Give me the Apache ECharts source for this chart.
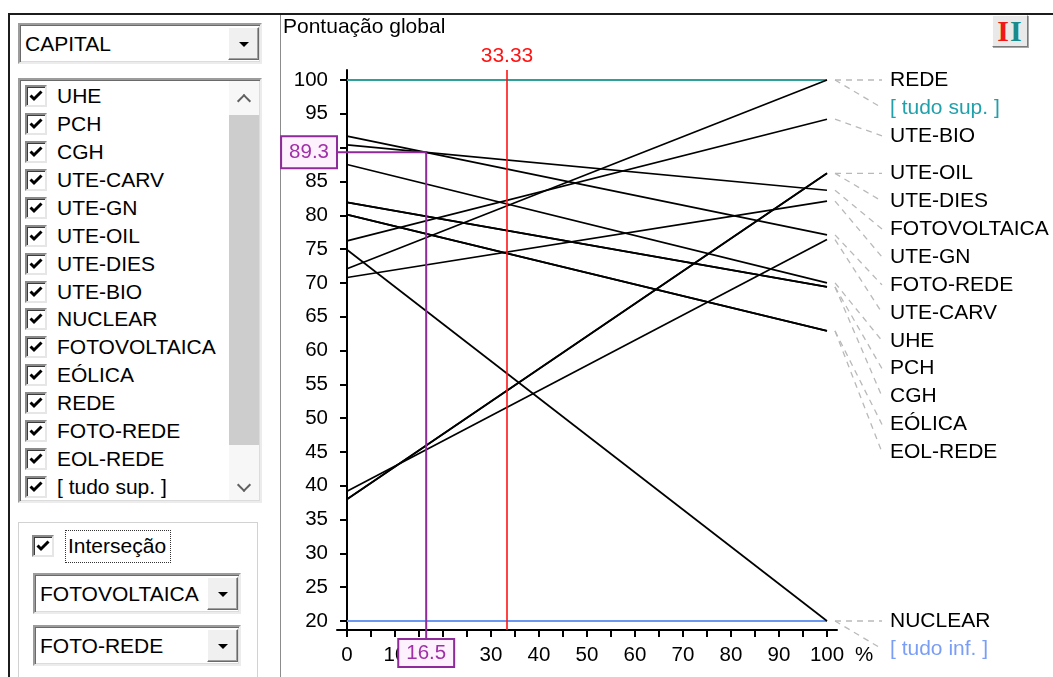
<!DOCTYPE html>
<html>
<head>
<meta charset="utf-8">
<title>Pontuação global</title>
<script src="https://cdn.jsdelivr.net/npm/echarts@6/dist/echarts.min.js"></script>
<style>
  html, body { margin: 0; padding: 0; background: #fff; }
  body { width: 1053px; height: 677px; position: relative; overflow: hidden;
         font-family: "Liberation Sans", Arial, sans-serif; font-size: 21px; color: #000; }
  #chart { position: absolute; left: 0; top: 0; width: 1053px; height: 677px; z-index: 2; }
  #panel { position: absolute; left: 0; top: 0; width: 1053px; height: 677px; z-index: 1; }
  .abs { position: absolute; box-sizing: border-box; }
  .sunken { background: #fff; border: 2px solid; border-color: #9c9c9c #ececec #ececec #9c9c9c;
            box-shadow: inset 1px 1px 0 #6a6a6a, inset -1px -1px 0 #dcdcdc; }
  .btn { background: #f0f0f0; border: 1px solid; border-color: #fff #6a6a6a #6a6a6a #fff;
         box-shadow: inset -1px -1px 0 #a0a0a0; }
  .arrow { position: absolute; left: 50%; top: 50%; margin-left: -5px; margin-top: -2px; width: 0; height: 0;
           border-left: 5px solid transparent; border-right: 5px solid transparent; border-top: 5px solid #000; }
  .chk { position: absolute; width: 22px; height: 22px; box-sizing: border-box; background: #fff;
         border: 2px solid; border-color: #8a8a8a #e6e6e6 #e6e6e6 #8a8a8a;
         box-shadow: inset 1px 1px 0 #3c3c3c; }
  .chk svg { position: absolute; left: 1px; top: 1px; }
  .txt { position: absolute; white-space: nowrap; line-height: 24px; height: 24px; }
  .chev { position: absolute; width: 8px; height: 8px; border-left: 2px solid #606060; border-top: 2px solid #606060; }
</style>
</head>
<body>
<div id="panel"></div>
<div id="chart"></div>
<script>
// ---- data -------------------------------------------------------------
// alternatives and their global score at criterion weight 0 % and 100 %
const alternatives = ['UHE', 'PCH', 'CGH', 'UTE-CARV', 'UTE-GN', 'UTE-OIL', 'UTE-DIES',
                      'UTE-BIO', 'NUCLEAR', 'FOTOVOLTAICA', 'EÓLICA', 'REDE', 'FOTO-REDE', 'EOL-REDE'];
const scoreAtZero = [87.5, 81.9, 81.9, 39.2, 70.8, 38.0, 38.0, 76.2, 74.9, 90.4, 80.1, 72.1, 91.7, 80.1];
const scoreAtFull = [70.0, 69.4, 69.4, 76.4, 82.1, 86.2, 86.2, 94.2, 20.0, 83.7, 62.9, 100.0, 77.1, 62.9];
const weightRange = [0, 100];
// reference alternatives: everything at best / everything at worst
const boundNames = ['[ tudo sup. ]', '[ tudo inf. ]'];
const boundScores = [100, 20];
// current weight of the criterion and the crossing of the two compared alternatives
const criterionName = 'CAPITAL';
const currentWeight = 33.33;
const comparedPair = ['FOTOVOLTAICA', 'FOTO-REDE'];
const crossingPoint = [16.5, 89.3];
// axis ticks
const yTickValues = [20, 25, 30, 35, 40, 45, 50, 55, 60, 65, 70, 75, 80, 85, 90, 95, 100];
const xTickValues = [0, 5, 10, 15, 20, 25, 30, 35, 40, 45, 50, 55, 60, 65, 70, 75, 80, 85, 90, 95, 100];
const xLabelValues = [0, 10, 20, 30, 40, 50, 60, 70, 80, 90, 100];
// entries of the check list on the left
const checkList = alternatives.concat([boundNames[0]]);

// ---- left control panel -----------------------------------------------
const FONT = '"Liberation Sans", Arial, sans-serif';
const panel = document.getElementById('panel');
function el(cls, css, html) {
  const d = document.createElement('div');
  d.className = cls;
  d.style.cssText = css;
  if (html !== undefined) d.innerHTML = html;
  panel.appendChild(d);
  return d;
}
const tick = '<svg width="16" height="16" viewBox="0 0 16 16"><path d="M2.5 7.5 L6 11 L13.5 3.5" fill="none" stroke="#000" stroke-width="3"/></svg>';
function combo(x, y, w, h, text) {
  el('abs sunken', `left:${x}px;top:${y}px;width:${w}px;height:${h}px;`);
  el('txt', `left:${x + 7}px;top:${y + h / 2 - 12}px;`, text);
  el('abs btn', `left:${x + w - 34}px;top:${y + 4}px;width:31px;height:${h - 8}px;`, '<div class="arrow"></div>');
}
// frame lines
el('abs', 'left:8px;top:13px;width:1045px;height:2px;background:#1c1c1c;');
el('abs', 'left:8px;top:13px;width:2px;height:664px;background:#1c1c1c;');
el('abs', 'left:280px;top:15px;width:1px;height:662px;background:#8c8c8c;');
// criterion selector
combo(18, 23, 244, 41, criterionName);
// check list
el('abs sunken', 'left:18px;top:78px;width:244px;height:425px;');
checkList.forEach((name, i) => {
  const cy = 96 + i * 27.93;
  el('chk', `left:25px;top:${cy - 11}px;`, tick);
  el('txt', `left:57px;top:${cy - 12}px;`, name);
});
// scroll bar
el('abs', 'left:229px;top:81px;width:30px;height:419px;background:#f7f7f7;');
el('abs', 'left:229px;top:115px;width:30px;height:330px;background:#cdcdcd;');
el('chev', 'left:239px;top:96px;transform:rotate(45deg);');
el('chev', 'left:239px;top:480px;transform:rotate(225deg);');
// crossing group
el('abs', 'left:18px;top:522px;width:240px;height:170px;border:1px solid #d2d2d2;box-shadow:inset 1px 1px 0 #fff;');
el('chk', 'left:32px;top:535px;', tick);
el('abs', 'left:65px;top:530px;width:106px;height:33px;border:1px dotted #333;');
el('txt', 'left:68px;top:534px;', 'Interseção');
combo(33, 573, 208, 41, comparedPair[0]);
combo(33, 625, 208, 41, comparedPair[1]);
// view-mode button at the top right
el('abs', 'left:992px;top:15px;width:36px;height:32px;background:#e9e9e9;border:1px solid;border-color:#fff #7a7a7a #7a7a7a #fff;box-shadow:1px 1px 0 #a8a8a8;' +
   'font:bold 30px "Liberation Serif",serif;line-height:30px;text-align:center;letter-spacing:1px;',
   '<span style="color:#f01818">I</span><span style="color:#1a8a8a">I</span>');

// ---- chart --------------------------------------------------------------
const GRID = { left: 337, right: 216, top: 70, bottom: 47 };
const X_OVERSHOOT_PX = 10, Y_OVERSHOOT_TOP_PX = 10, Y_OVERSHOOT_BOTTOM_PX = 9;
const plotW = 1053 - GRID.left - GRID.right, plotH = 677 - GRID.top - GRID.bottom;
const xSpan = weightRange[1] - weightRange[0];
const ySpan = yTickValues[yTickValues.length - 1] - yTickValues[0];
const xPerPx = xSpan / (plotW - 2 * X_OVERSHOOT_PX);
const yPerPx = ySpan / (plotH - Y_OVERSHOOT_TOP_PX - Y_OVERSHOOT_BOTTOM_PX);
const xMin = weightRange[0] - X_OVERSHOOT_PX * xPerPx;
const xMax = weightRange[1] + X_OVERSHOOT_PX * xPerPx;
const yMin = yTickValues[0] - Y_OVERSHOOT_BOTTOM_PX * yPerPx;
const yMax = yTickValues[yTickValues.length - 1] + Y_OVERSHOOT_TOP_PX * yPerPx;

const TEAL = '#2f9f9a', TEAL_TEXT = '#22a0aa';
const BLUE = '#6a98f2', BLUE_TEXT = '#7a9ef5';
const RED = '#ff1414', PURPLE = '#8e2a9a', PURPLE_TEXT = '#a030a8';

const series = [];
series.push({
  name: boundNames[0], type: 'line', symbol: 'none', silent: true, z: 2,
  data: [[weightRange[0], boundScores[0]], [weightRange[1], boundScores[0]]],
  lineStyle: { color: TEAL, width: 2 }
});
series.push({
  name: boundNames[1], type: 'line', symbol: 'none', silent: true, z: 2,
  data: [[weightRange[0], boundScores[1]], [weightRange[1], boundScores[1]]],
  lineStyle: { color: BLUE, width: 2 }
});
alternatives.forEach((name, i) => {
  series.push({
    name, type: 'line', symbol: 'none', silent: true, z: 3,
    data: [[weightRange[0], scoreAtZero[i]], [weightRange[1], scoreAtFull[i]]],
    lineStyle: { color: '#000', width: 1.7 }
  });
});
// current weight marker
series.push({
  name: 'peso atual', type: 'line', data: [], silent: true, z: 5,
  markLine: {
    silent: true, symbol: 'none', animation: false,
    lineStyle: { color: RED, width: 1.6, type: 'solid' },
    label: { show: true, position: 'end', distance: 3, color: RED, fontSize: 21, fontFamily: FONT,
             formatter: () => currentWeight.toFixed(2) },
    data: [{ xAxis: currentWeight }]
  }
});
// crossing of the two compared alternatives: guides to both axes with value boxes
const boxStyle = {
  fill: PURPLE_TEXT, font: '20.5px ' + FONT,
  backgroundColor: '#fdf1fd', borderColor: PURPLE, borderWidth: 2
};
series.push({
  name: 'interseção', type: 'custom', silent: true, z: 6, clip: false,
  encode: { x: 0, y: 1 },
  data: [crossingPoint],
  renderItem(params, api) {
    const p = api.coord([api.value(0), api.value(1)]);
    const cs = params.coordSys;
    const below = cs.y + cs.height + 10;
    const left = cs.x - 1;
    return {
      type: 'group',
      children: [
        { type: 'line', shape: { x1: p[0], y1: p[1], x2: p[0], y2: below },
          style: { stroke: PURPLE, lineWidth: 2 } },
        { type: 'line', shape: { x1: left, y1: p[1], x2: p[0], y2: p[1] },
          style: { stroke: PURPLE, lineWidth: 2 } },
        { type: 'text', x: p[0], y: below,
          style: Object.assign({ text: api.value(0).toFixed(1), align: 'center', verticalAlign: 'top',
                                 padding: [3, 7, 2, 7] }, boxStyle) },
        { type: 'text', x: left, y: p[1],
          style: Object.assign({ text: api.value(1).toFixed(1), align: 'right', verticalAlign: 'middle',
                                 padding: [5, 7, 4, 7] }, boxStyle) }
      ]
    };
  }
});

const chart = echarts.init(document.getElementById('chart'), null, { renderer: 'canvas' });
chart.setOption({
  animation: false,
  backgroundColor: 'transparent',
  title: {
    text: 'Pontuação global', left: 283, top: 17, padding: 0,
    textStyle: { fontSize: 21, fontWeight: 'normal', color: '#000', fontFamily: FONT }
  },
  grid: Object.assign({ containLabel: false, outerBoundsMode: 'none' }, GRID),
  xAxis: {
    type: 'value', min: xMin, max: xMax,
    name: '%', nameLocation: 'end', nameGap: 18, nameMoveOverlap: false,
    nameTextStyle: { fontSize: 20.5, color: '#000', fontFamily: FONT, verticalAlign: 'top', padding: [15, 0, 0, 0] },
    axisLine: { show: true, lineStyle: { color: '#000', width: 2 } },
    axisTick: { show: true, length: 7, inside: false, customValues: xTickValues, lineStyle: { color: '#000', width: 2 } },
    axisLabel: { show: true, customValues: xLabelValues, margin: 15, fontSize: 20.5, color: '#000', fontFamily: FONT },
    splitLine: { show: false }
  },
  yAxis: {
    type: 'value', min: yMin, max: yMax,
    axisLine: { show: true, onZero: true, lineStyle: { color: '#000', width: 2 } },
    axisTick: { show: true, length: 7, inside: false, customValues: yTickValues, lineStyle: { color: '#000', width: 2 } },
    axisLabel: { show: true, customValues: yTickValues, margin: 9, fontSize: 20.5, color: '#000', fontFamily: FONT },
    splitLine: { show: false }
  },
  series
});

// end-of-line labels with dashed leaders, spread so they never overlap
const LABEL_STEP = 27.9;
function drawEndLabels() {
  const entries = alternatives.map((name, i) => ({ name, value: scoreAtFull[i], color: '#000', rank: 0, order: i }));
  boundNames.forEach((name, i) => entries.push({ name, value: boundScores[i], color: i === 0 ? TEAL_TEXT : BLUE_TEXT, rank: 1, order: i }));
  entries.sort((a, b) => (b.value - a.value) || (a.rank - b.rank) || (a.order - b.order));
  const elements = [];
  let prev = -Infinity;
  entries.forEach(e => {
    const p = chart.convertToPixel({ gridIndex: 0 }, [weightRange[1], e.value]);
    const ly = Math.max(p[1], prev + LABEL_STEP);
    prev = ly;
    elements.push({
      type: 'line', silent: true, z: 10,
      shape: { x1: p[0] + 8, y1: p[1], x2: p[0] + 55, y2: ly },
      style: { stroke: '#b9b9b9', lineWidth: 1.3, lineDash: [6, 5] }
    });
    elements.push({
      type: 'text', silent: true, z: 10, x: p[0] + 63, y: ly,
      style: { text: e.name, fill: e.color, font: '21px ' + FONT, align: 'left', verticalAlign: 'middle' }
    });
  });
  chart.setOption({ graphic: elements });
}
drawEndLabels();
</script>
</body>
</html>
